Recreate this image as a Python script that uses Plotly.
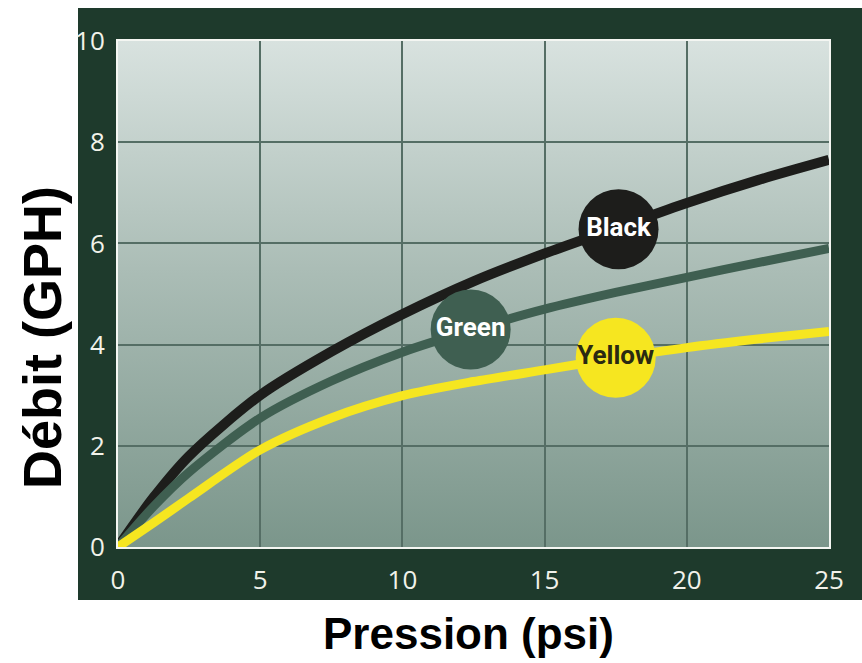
import base64
import plotly.graph_objects as go

# ---- data ----
pressure = [0, 1.25, 2.5, 5, 7.5, 10, 12.5, 15, 17.5, 20, 22.5, 25]
black = [0, 0.98, 1.8, 3.0, 3.86, 4.6, 5.25, 5.8, 6.3, 6.8, 7.25, 7.65]
green = [0, 0.8, 1.48, 2.55, 3.28, 3.85, 4.3, 4.7, 5.03, 5.33, 5.62, 5.9]
yellow = [0, 0.48, 0.97, 1.92, 2.55, 2.99, 3.27, 3.5, 3.73, 3.94, 4.11, 4.26]

series_names = ["Black", "Green", "Yellow"]
label_x = [17.6, 12.4, 17.5]
label_y = [6.28, 4.3, 3.74]

x_ticks = [0, 5, 10, 15, 20, 25]
y_ticks = [0, 2, 4, 6, 8, 10]

x_title = "Pression (psi)"
y_title = "Débit (GPH)"

# ---- styles ----
W, H = 862, 663
L, R, T, B = 118, 33, 41, 116
pw, ph = W - L - R, H - T - B

def px_x(p):
    return (p - L) / pw

def px_y(p):
    return (H - B - p) / ph

panel = "#1e3a2c"
line_colors = ["#1d1d1b", "#3f5f51", "#f6e620"]
line_widths = [10, 9, 9]
circle_text_colors = ["#ffffff", "#ffffff", "#2a2a12"]

svg = (
    '<svg xmlns="http://www.w3.org/2000/svg" width="100" height="100" preserveAspectRatio="none">'
    '<defs><linearGradient id="g" x1="0" y1="0" x2="0" y2="1">'
    '<stop offset="0" stop-color="#d8e2df"/>'
    '<stop offset="0.45" stop-color="#abbdb6"/>'
    '<stop offset="1" stop-color="#7b968b"/>'
    '</linearGradient></defs>'
    '<rect width="100" height="100" fill="url(#g)"/></svg>'
)
src = "data:image/svg+xml;base64," + base64.b64encode(svg.encode()).decode()

fig = go.Figure()
for name, ys, col, w in zip(series_names, [black, green, yellow], line_colors, line_widths):
    fig.add_trace(go.Scatter(
        x=pressure, y=ys, mode="lines", name=name,
        line=dict(color=col, width=w, shape="spline", smoothing=0.8),
        hoverinfo="skip",
    ))

fig.add_trace(go.Scatter(
    x=label_x, y=label_y, mode="markers+text", text=series_names,
    textposition="middle center",
    marker=dict(size=80, color=line_colors, line=dict(width=0)),
    textfont=dict(family="Roboto, Arial, sans-serif", size=26,
                  color=circle_text_colors, weight="bold"),
    hoverinfo="skip",
))

axis_common = dict(
    showgrid=True, gridcolor="#556e65", gridwidth=2,
    zeroline=False, showline=True, linecolor="#f4f6f2", linewidth=2, mirror=True,
    tickfont=dict(family="Open Sans, Noto Sans, sans-serif", size=26, color="#f2f2ea"),
    ticks="outside", tickcolor="rgba(0,0,0,0)",
)

fig.update_xaxes(range=[0, 25], tickvals=x_ticks, ticklen=9, **axis_common)
fig.update_yaxes(range=[0, 10], tickvals=y_ticks, ticklen=6, **axis_common)

fig.update_layout(
    width=W, height=H,
    margin=dict(l=L, r=R, t=T, b=B, pad=0),
    paper_bgcolor="white", plot_bgcolor="rgba(0,0,0,0)",
    showlegend=False,
    shapes=[dict(type="rect", xref="paper", yref="paper", layer="below",
                 x0=px_x(78), x1=px_x(870), y0=px_y(600), y1=px_y(8),
                 fillcolor=panel, line=dict(width=0))],
    images=[dict(source=src, xref="x", yref="y", x=0, y=10, sizex=25, sizey=10,
                 sizing="stretch", layer="below", xanchor="left", yanchor="top")],
    annotations=[
        dict(text=x_title, xref="paper", yref="paper", x=px_x(468), y=px_y(633),
             showarrow=False, xanchor="center", yanchor="middle",
             font=dict(family="Liberation Sans, Arial, sans-serif", size=44, color="black", weight="bold")),
        dict(text=y_title, xref="paper", yref="paper", x=px_x(42), y=px_y(338),
             showarrow=False, xanchor="center", yanchor="middle", textangle=-90,
             font=dict(family="Liberation Sans, Arial, sans-serif", size=54, color="black", weight="bold")),
    ],
)

fig.write_html("out.html", config={"displayModeBar": False},
               post_script="document.body.style.margin='0';document.body.style.overflow='hidden';")
